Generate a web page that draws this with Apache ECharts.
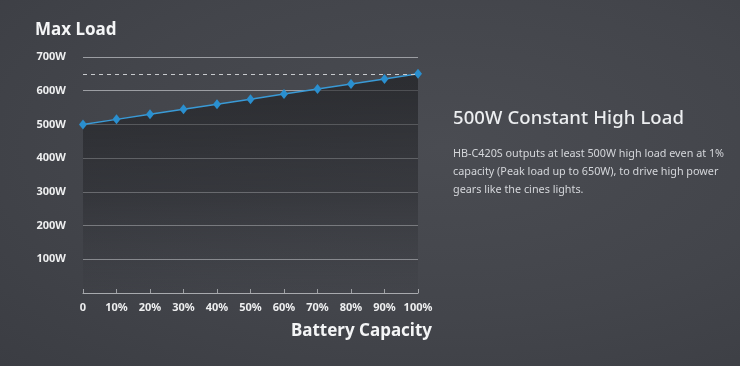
<!DOCTYPE html>
<html><head><meta charset="utf-8">
<script src="https://cdn.jsdelivr.net/npm/echarts@6/dist/echarts.min.js"></script>
<style>
html,body{margin:0;padding:0;width:740px;height:366px;overflow:hidden;}
body{background:radial-gradient(ellipse at 60% 40%,#4a4c52 0%,#43454b 55%,#3b3d43 100%);font-family:"Noto Sans",sans-serif;}
#chart{position:absolute;left:0;top:0;width:740px;height:366px;}
#side{position:absolute;left:453px;top:104px;width:290px;color:#eceef0;}
#side h2{margin:0;font-size:18.5px;font-weight:500;letter-spacing:0.1px;line-height:26px;}
#side p{margin:14px 0 0 0;font-size:10.8px;line-height:18px;color:#d4d6da;}
</style></head>
<body>
<div id="chart"></div>
<div id="side"><h2>500W Constant High Load</h2>
<p>HB-C420S outputs at least 500W high load even at 1% capacity (Peak load up to 650W), to drive high power gears like the cines lights.</p></div>
<script>
const categories = ['0','10%','20%','30%','40%','50%','60%','70%','80%','90%','100%'];
const maxLoad = [500,515,530,545,560,575,590,605,620,635,650];
const peakLoad = 650;
const yTicks = [0,100,200,300,400,500,600,700];

const chart = echarts.init(document.getElementById('chart'), null, {renderer:'canvas'});
chart.setOption({
  animation:false,
  backgroundColor:'transparent',
  title:[
    {text:'Max Load', left:30, top:17, textStyle:{color:'#f4f5f6', fontSize:17, fontWeight:'bold', fontFamily:'Noto Sans'}},
    {text:'Battery Capacity', right:303, top:318, textStyle:{color:'#f4f5f6', fontSize:17, fontWeight:'bold', fontFamily:'Noto Sans'}}
  ],
  grid:{left:83, right:322, top:57, bottom:73, containLabel:false},
  xAxis:{
    type:'category', data:categories, boundaryGap:false,
    axisLine:{show:true, lineStyle:{color:'#a8aaae', width:1}},
    axisTick:{show:true, inside:true, length:4, interval:0, lineStyle:{color:'#a8aaae'}},
    axisLabel:{color:'#eeeff0', fontSize:11, fontWeight:'bold', margin:9, interval:0, fontFamily:'Noto Sans'},
    splitLine:{show:false}
  },
  yAxis:{
    type:'value', min:0, max:700, interval:100,
    axisLine:{show:false}, axisTick:{show:false},
    axisLabel:{color:'#eeeff0', fontSize:11, fontWeight:'bold', margin:17, fontFamily:'Noto Sans',
      formatter:v=> (v===0 ? '' : v+'W')},
    splitLine:{show:true, lineStyle:{color:'#9c9ea3', width:1},
      showMinLine:false}
  },
  series:[{
    type:'line', data:maxLoad,
    symbol:'diamond', symbolSize:[8,10],
    lineStyle:{color:'#3a9ad6', width:1.5},
    itemStyle:{color:'#2a8fcf'},
    areaStyle:{color:new echarts.graphic.LinearGradient(0,0,0,1,[
      {offset:0,color:'rgba(28,29,32,0.92)'},
      {offset:0.55,color:'rgba(34,35,39,0.6)'},
      {offset:1,color:'rgba(50,52,57,0.1)'}])},
    markLine:{
      silent:true, symbol:['none','none'], label:{show:false},
      lineStyle:{color:'#c8cacd', type:[4,4], width:1},
      data:[{yAxis:peakLoad}]
    },
    z:3
  }]
});
</script>
</body></html>
